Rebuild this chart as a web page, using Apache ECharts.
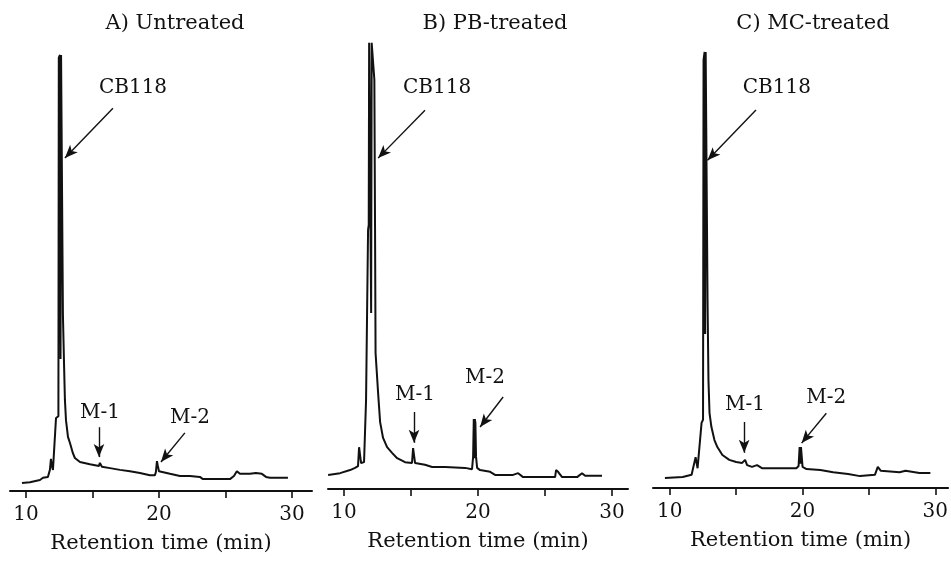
<!DOCTYPE html>
<html>
<head>
<meta charset="utf-8">
<script src="https://cdn.jsdelivr.net/npm/echarts@6/dist/echarts.min.js"></script>
<style>
html,body{margin:0;padding:0;background:#fff;}
#chart{width:951px;height:563px;}
</style>
</head>
<body>
<div id="chart"></div>
<script>
// ---- Data (retention time in min, detector signal in arbitrary units) ----
const panelTitles = ['A) Untreated', 'B) PB-treated', 'C) MC-treated'];
const axisName = 'Retention time (min)';
const tickValues = [10, 15, 20, 25, 30];
const labelValues = [10, 20, 30];

const timeA = [9.70,10.30,11.05,11.28,11.65,11.80,11.88,11.95,12.03,12.18,12.26,12.40,12.44,12.47,12.56,12.60,12.64,12.72,12.78,12.86,12.93,13.01,13.16,13.31,13.53,13.68,14.06,14.81,15.49,15.56,15.71,16.32,17.07,17.82,18.57,19.32,19.70,19.77,19.85,19.92,20.00,20.15,20.83,21.58,22.33,23.08,23.31,25.34,25.64,25.86,26.09,26.84,27.29,27.74,28.05,28.35,29.70];
const signalA = [1.8,2.0,2.5,3.0,3.2,4.8,7.3,5.7,4.8,4.8,16.6,16.6,17.0,98.5,99.1,30.0,99.1,99.1,40.0,29.3,20.7,16.1,12.3,10.9,8.6,7.5,6.6,6.1,5.7,6.4,5.5,5.2,4.8,4.5,4.1,3.6,3.6,4.3,6.8,5.7,4.5,4.1,3.9,3.4,3.4,3.2,2.7,2.7,3.4,4.5,3.9,3.9,4.1,3.9,3.2,3.0,3.0];

const timeB = [8.81,9.70,10.45,10.82,11.04,11.12,11.19,11.27,11.49,11.64,11.79,11.84,11.87,11.98,12.02,12.06,12.20,12.26,12.31,12.35,12.54,12.69,12.91,13.21,13.58,13.96,14.55,15.07,15.15,15.22,15.30,16.04,16.57,17.54,19.03,19.55,19.63,19.68,19.72,19.76,19.80,19.85,19.93,20.15,20.90,21.27,22.61,22.99,23.13,23.36,25.75,25.82,25.97,26.27,27.39,27.76,27.99,29.25];
const signalB = [3.2,3.6,4.3,4.8,5.2,9.5,9.5,5.9,6.1,20.2,58.9,60.0,101.4,101.4,40.0,101.4,101.4,93.0,60.0,30.9,21.8,15.2,11.6,9.5,8.2,7.0,6.1,5.9,9.3,7.7,5.9,5.5,5.0,5.0,4.8,4.5,7.3,15.9,7.0,15.9,15.0,7.3,4.8,4.3,3.9,3.2,3.2,3.6,3.6,2.7,2.7,4.3,3.9,2.7,2.7,3.6,3.0,3.0];

const timeC = [9.63,10.97,11.64,11.72,11.94,12.09,12.24,12.39,12.46,12.50,12.54,12.62,12.66,12.70,12.78,12.84,12.91,12.99,13.13,13.36,13.58,13.96,14.48,15.00,15.45,15.67,15.82,16.19,16.57,16.94,19.55,19.70,19.78,19.84,19.88,19.93,20.00,20.30,21.34,22.31,23.43,24.33,25.45,25.67,25.90,27.31,27.76,28.81,29.63];
const signalC = [2.3,2.5,3.0,4.1,7.0,4.5,4.1,14.8,14.8,15.5,97.3,99.1,35.0,99.1,99.1,42.7,24.5,17.0,13.9,10.9,9.3,7.5,6.4,5.9,5.7,6.4,5.2,4.8,5.2,4.5,4.5,5.0,9.3,5.5,9.3,9.3,4.8,4.3,4.1,3.6,3.2,2.7,3.0,4.8,3.9,3.6,3.9,3.4,3.4];

// annotation labels: [time, signal] of text centre
const peakLabels = ['CB118', 'M-1', 'M-2'];
const labelPosA = [[18.05, 91.6], [15.56, 17.7], [22.33, 16.6]];
const labelPosB = [[16.94, 91.1], [15.30, 21.4], [20.52, 25.2]];
const labelPosC = [[18.06, 90.9], [15.67, 18.9], [21.79, 20.5]];
// arrows: [fromTime, fromSignal, toTime, toSignal]
const arrowsA = [[16.54, 87.0, 12.93, 75.7], [15.49, 14.5, 15.49, 7.7], [21.95, 13.2, 20.15, 6.6]];
const arrowsB = [[16.04, 86.1, 12.54, 75.2], [15.22, 17.5, 15.22, 10.5], [21.87, 20.9, 20.15, 14.1]];
const arrowsC = [[16.49, 85.9, 12.84, 74.5], [15.60, 15.0, 15.60, 8.0], [21.79, 17.0, 19.93, 10.2]];

// ---- Layout ----
const FONT = 'DejaVu Serif';
const grids = [
  {left: 10, width: 302, top: 29, height: 462},
  {left: 328, width: 300, top: 27, height: 462},
  {left: 653, width: 298, top: 26, height: 462}
];
const xRanges = [[8.8, 31.51], [8.8, 31.19], [8.731, 30.97]];
const titleCenters = [170, 490, 808];

const times = [timeA, timeB, timeC];
const signals = [signalA, signalB, signalC];
const labelPos = [labelPosA, labelPosB, labelPosC];
const arrows = [arrowsA, arrowsB, arrowsC];

const chart = echarts.init(document.getElementById('chart'), null, {renderer: 'canvas'});

const option = {
  animation: false,
  backgroundColor: '#ffffff',
  title: panelTitles.map((t, i) => ({
    text: t, left: titleCenters[i], top: 8, textAlign: 'center',
    textStyle: {fontFamily: FONT, fontSize: 21, fontWeight: 'normal', color: '#111'}
  })),
  grid: grids,
  xAxis: grids.map((g, i) => ({
    type: 'value', gridIndex: i, min: xRanges[i][0], max: xRanges[i][1],
    name: axisName, nameLocation: 'middle', nameGap: 42,
    nameTextStyle: {fontFamily: FONT, fontSize: 21, color: '#111'},
    axisLine: {show: true, onZero: false, lineStyle: {color: '#111', width: 2}},
    axisTick: {show: true, inside: false, length: 7, customValues: tickValues, lineStyle: {color: '#111', width: 1.6}},
    axisLabel: {show: true, customValues: labelValues, margin: 14, fontFamily: FONT, fontSize: 20, color: '#111'},
    splitLine: {show: false}
  })),
  yAxis: grids.map((g, i) => ({
    type: 'value', gridIndex: i, min: 0, max: 105, show: false, splitLine: {show: false}
  })),
  series: grids.map((g, i) => ({
    type: 'line', xAxisIndex: i, yAxisIndex: i, symbol: 'none', silent: true,
    data: times[i].map((t, k) => [t, signals[i][k]]),
    lineStyle: {color: '#111', width: 2},
    markLine: {
      silent: true, symbol: ['none', 'arrow'], symbolSize: [8, 13],
      label: {show: false},
      lineStyle: {color: '#111', width: 1.4, type: 'solid'},
      emphasis: {disabled: true},
      data: arrows[i].map(a => [{coord: [a[0], a[1]]}, {coord: [a[2], a[3]]}])
    },
    markPoint: {
      silent: true, symbol: 'circle', symbolSize: 0,
      data: labelPos[i].map((p, k) => ({
        coord: p,
        label: {show: true, position: 'inside', formatter: peakLabels[k], fontFamily: FONT, fontSize: 20, color: '#111'}
      }))
    }
  }))
};
chart.setOption(option);
</script>
</body>
</html>
